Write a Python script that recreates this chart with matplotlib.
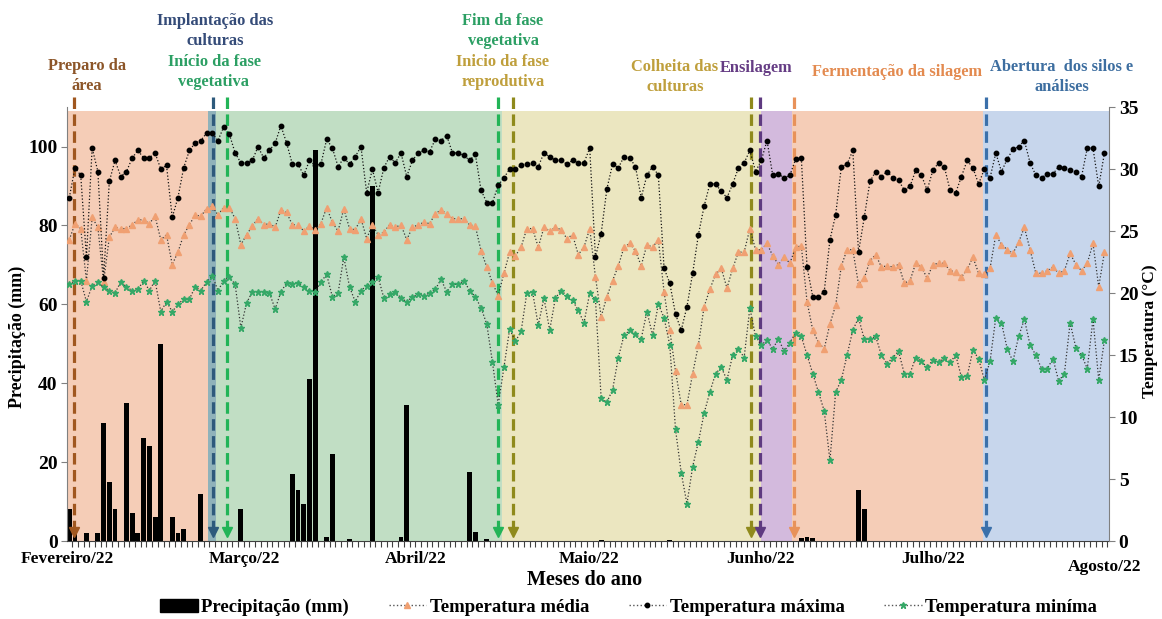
import numpy as np
import matplotlib
matplotlib.use("Agg")
import matplotlib.pyplot as plt
from matplotlib.patches import Patch
from matplotlib.lines import Line2D

plt.rcParams['font.family'] = ['Liberation Serif', 'DejaVu Serif']
plt.rcParams['font.weight'] = 'bold'

# ---------------- data (one value per day, 1 Feb 2022 -> 1 Aug 2022) -------------
t_max = [27.7,30.1,29.5,22.9,31.7,29.8,21.2,29.0,30.7,29.4,
         29.8,30.9,31.5,30.9,30.9,31.3,30.0,30.3,26.1,27.7,
         30.1,31.5,32.1,32.3,32.9,32.9,32.3,33.4,32.8,31.3,
         30.5,30.5,30.7,31.8,30.9,31.5,32.1,33.5,32.1,30.4,
         30.4,29.5,30.7,30.3,30.4,32.4,31.7,30.2,30.9,30.4,
         31.0,31.8,28.1,30.0,28.1,30.1,31.0,30.5,31.3,29.4,
         30.7,31.3,31.5,31.4,32.4,32.3,32.7,31.3,31.3,31.1,
         30.7,31.2,28.3,27.3,27.3,28.7,29.3,30.0,30.0,30.3,
         30.4,30.5,30.2,31.3,31.0,30.7,30.7,30.4,30.7,30.5,
         30.5,31.7,22.9,24.8,28.4,30.4,30.1,31.0,30.9,30.2,
         27.7,29.5,30.2,29.5,22.0,20.8,18.3,17.0,18.9,21.6,
         24.7,27.0,28.8,28.8,28.2,27.7,28.8,30.1,30.5,31.5,
         29.8,30.7,32.3,29.5,29.6,29.3,29.5,30.8,30.9,22.1,
         19.7,19.7,20.1,24.3,26.3,30.2,30.4,31.5,23.3,26.1,
         29.0,29.8,29.4,29.8,29.3,29.1,28.3,28.6,29.9,29.5,
         28.3,29.9,30.5,30.2,28.3,28.1,29.4,30.7,30.1,28.8,
         30.0,29.3,31.3,29.8,30.8,31.6,31.8,32.3,30.5,29.5,
         29.3,29.6,29.6,30.2,30.1,29.9,29.8,29.4,31.7,31.7,
         28.6,31.3]

t_mean = [24.3,25.6,25.2,21.0,26.1,25.3,20.9,24.5,25.3,25.2,
          25.2,25.5,25.9,25.9,25.6,26.2,24.3,24.7,22.3,23.3,
          24.7,25.5,26.3,26.2,26.8,27.0,26.3,26.9,26.9,26.0,
          23.9,24.7,25.4,26.0,25.5,25.6,25.3,26.7,26.5,25.5,
          25.5,25.0,25.4,25.1,25.6,26.9,25.7,25.0,26.8,25.2,
          25.1,26.0,24.4,25.5,24.7,24.9,25.5,25.3,25.5,24.3,
          25.3,25.5,25.7,25.6,26.4,26.7,26.4,26.0,26.0,26.0,
          25.5,25.4,23.4,22.1,20.8,19.8,21.6,23.3,23.0,23.7,
          25.2,25.2,23.7,25.3,25.0,25.3,25.1,24.4,24.7,23.1,
          23.7,25.2,21.3,18.1,19.7,21.0,22.2,23.7,24.0,23.4,
          22.2,23.9,23.7,24.3,20.1,17.0,13.7,11.0,11.0,13.5,
          15.8,18.9,20.3,21.5,22.0,20.4,22.0,23.3,23.3,25.2,
          23.5,23.5,24.0,23.0,22.3,22.9,22.4,23.7,23.8,19.3,
          17.0,16.0,15.5,17.5,19.0,22.2,23.5,23.5,20.7,21.2,
          22.6,23.1,22.1,22.2,22.1,22.3,20.8,21.0,22.4,22.1,
          21.2,22.3,22.4,22.4,21.8,21.7,21.3,21.9,22.9,21.6,
          21.5,22.0,24.7,23.9,23.5,23.2,24.1,25.3,23.5,21.6,
          21.6,21.8,22.1,21.6,21.8,23.2,22.3,21.8,22.4,24.0,
          20.5,23.3]

t_min = [20.7,21.0,21.0,19.3,20.6,20.9,20.5,20.2,20.0,20.9,
         20.5,20.2,20.3,21.0,20.2,21.0,18.5,19.3,18.5,19.1,
         19.5,19.5,20.5,20.2,20.9,21.4,20.2,21.0,21.3,20.7,
         17.2,19.2,20.1,20.1,20.1,20.0,18.7,20.1,20.8,20.7,
         20.8,20.5,20.2,20.1,20.9,21.5,19.7,20.0,22.9,20.5,
         19.3,20.2,20.6,20.9,21.3,19.6,19.9,20.1,19.6,19.3,
         19.7,19.9,19.8,20.0,20.3,21.1,20.1,20.7,20.7,21.0,
         20.2,19.7,18.8,17.5,14.4,11.0,14.0,17.1,16.1,16.9,
         20.0,20.1,17.4,19.6,17.0,19.6,20.2,19.8,19.4,18.6,
         17.6,20.0,19.5,11.5,11.2,12.2,14.8,16.6,17.0,16.7,
         16.3,18.5,16.6,19.1,18.0,15.8,9.0,5.5,3.0,6.0,
         8.0,10.3,12.0,13.5,14.0,13.0,15.0,15.5,14.8,18.8,
         16.5,15.8,16.2,15.5,16.3,15.3,16.0,16.8,16.5,15.0,
         13.5,12.0,10.5,6.5,12.0,13.0,15.0,17.0,18.0,16.3,
         16.3,16.5,15.0,14.3,14.8,15.3,13.5,13.5,14.8,14.5,
         14.0,14.6,14.4,14.8,14.4,15.0,13.2,13.3,15.4,14.7,
         13.0,14.5,18.0,17.6,15.5,14.5,16.5,17.9,15.8,15.0,
         13.9,13.9,14.7,12.9,13.5,17.6,15.6,15.0,13.9,17.9,
         13.0,16.2]

precip_day = [0, 1, 3, 5, 6, 7, 8, 10, 11, 12, 13, 14, 15, 16, 18, 19, 20, 23,
              30, 39, 40, 41, 42, 43, 45, 46, 49, 53, 58, 59, 70, 71, 73,
              93, 105, 128, 129, 130, 138, 139]
precip_mm = [8, 2, 2, 2, 30, 15, 8, 35, 7, 2, 26, 24, 6, 50, 6, 2, 3, 12,
             8, 17, 13, 9.5, 41, 99, 1, 22, 0.4, 90, 1, 34.5, 17.5, 2.4, 0.4,
             0.3, 0.3, 0.8, 1.0, 0.7, 13, 8]

month_labels = ['Fevereiro/22', 'Março/22', 'Abril/22', 'Maio/22',
                'Junho/22', 'Julho/22', 'Agosto/22']
month_label_day = [-0.3, 30.6, 60.5, 90.9, 120.8, 151.0, 181.1]

# phases (background bands)
phase_start = [-0.4, 24.25, 25.65, 75.7, 120.9, 126.4, 159.8]
phase_end = [24.25, 25.65, 75.7, 120.9, 126.4, 159.8, 182]
phase_color = ['#f5cdb7', '#8fb2ba', '#c1dec4', '#ebe6c0', '#d3badd', '#f5cdb7', '#c7d6ec']

# events (dashed arrows)
event_day = [0.8, 25.2, 27.6, 75.0, 77.6, 119.2, 120.7, 126.7, 160.3]
event_color = ['#a0571f', '#2e5a7c', '#22b457', '#22b457', '#8f8a1c',
               '#8f8a1c', '#5e3a80', '#e8925a', '#3b70aa']

n = len(t_max)
days = np.arange(n)

fig = plt.figure(figsize=(11.62, 6.19), dpi=100)
ax = fig.add_axes([0.058, 0.126, 0.8964, 0.701])
ax.set_xlim(-0.33, 181.8)
ax.set_ylim(0, 110)

for a, b, c in zip(phase_start, phase_end, phase_color):
    ax.axvspan(a, b, ymin=0, ymax=0.991, color=c, lw=0, zorder=0)

ax.bar(precip_day, precip_mm, width=0.85, color='black', zorder=2)

for d, c in zip(event_day, event_color):
    ax.plot([d, d], [112.6, 3.6], color=c, lw=2.3, dashes=(3.6, 1.7),
            clip_on=False, zorder=3)
    ax.plot([d], [2.3], marker='v', ms=7.5, color=c, mec=c,
            clip_on=False, zorder=3)

ax.set_yticks(range(0, 101, 20))
ax.tick_params(axis='y', labelsize=14, length=4, color='#808080', pad=3)
ax.set_xticks(np.arange(0.5, 181.6, 1))
ax.set_xticklabels([])
ax.tick_params(axis='x', length=4, color='#404040', width=0.8)
for s in ['top', 'right']:
    ax.spines[s].set_visible(False)
ax.spines['left'].set_color('#808080')
ax.spines['bottom'].set_color('#404040')

ax2 = ax.twinx()
ax2.set_ylim(0, 35)
ax2.set_yticks(range(0, 36, 5))
ax2.tick_params(axis='y', labelsize=14, length=4, color='#808080', pad=3)
for s in ['top', 'left', 'bottom']:
    ax2.spines[s].set_visible(False)
ax2.spines['right'].set_color('#808080')

mean_c = '#f0a072'
min_c = '#35a867'
ax2.plot(days, t_mean, color='#333333', ls=':', lw=0.9, marker='^', ms=4,
         mfc=mean_c, mec=mean_c, zorder=4)
ax2.plot(days, t_max, color='#111111', ls=':', lw=0.9, marker='o', ms=3.2,
         mfc='black', mec='black', zorder=4)
ax2.plot(days, t_min, color='#333333', ls=':', lw=0.9, marker='*', ms=5,
         mfc=min_c, mec=min_c, zorder=4)

# month labels
for lab, d in zip(month_labels, month_label_day):
    yy = -0.060 if lab.startswith('Agosto') else -0.042
    ax.text(d, yy, lab, transform=ax.get_xaxis_transform(), ha='center',
            va='center', fontsize=12.5, fontweight='bold')

W, H = 1162, 619
def ftxt(x, y, s, color='black', size=11.8, **kw):
    fig.text(x / W, 1 - y / H, s, color=color, fontsize=size, ha='center',
             va='center', fontweight='bold', linespacing=1.4, **kw)

ftxt(585, 580, 'Meses do ano', size=14.5)
ftxt(17, 337, 'Precipitação (mm)', size=13, rotation=90)
ftxt(1150, 331, 'Temperatura (°C)', size=12.5, rotation=90)

ftxt(87, 76, 'Preparo da\nárea', color='#8c5528')
ftxt(215, 31, 'Implantação das\nculturas', color='#344b78')
ftxt(214, 72, 'Início da fase\nvegetativa', color='#2b9f63')
ftxt(503, 31, 'Fim da fase\nvegetativa', color='#2b9f63')
ftxt(503, 72, 'Inicio da fase\nreprodutiva', color='#bf9f3c')
ftxt(675, 77, 'Colheita das\nculturas', color='#bf9f3c')
ftxt(756, 68, 'Ensilagem', color='#653c84')
ftxt(897, 72, 'Fermentação da silagem', color='#e38a4f')
ftxt(1062, 77, 'Abertura  dos silos e\nanálises', color='#3d6ea0')

handles = [Patch(facecolor='black', edgecolor='black'),
           Line2D([], [], color='#555555', ls=':', lw=1, marker='^', ms=4,
                  mfc=mean_c, mec=mean_c),
           Line2D([], [], color='#555555', ls=':', lw=1, marker='o', ms=3.2,
                  mfc='black', mec='black'),
           Line2D([], [], color='#555555', ls=':', lw=1, marker='*', ms=5,
                  mfc=min_c, mec=min_c)]
labels = ['Precipitação (mm)', 'Temperatura média', 'Temperatura máxima',
          'Temperatura miníma']
fig.legend(handles, labels, loc='center', bbox_to_anchor=(0.541, 0.019),
           ncol=4, frameon=False, handlelength=2.0, handletextpad=0.2,
           columnspacing=2.1,
           prop={'family': 'Liberation Serif', 'weight': 'bold', 'size': 13.5})

fig.savefig('out.png', dpi=100)
